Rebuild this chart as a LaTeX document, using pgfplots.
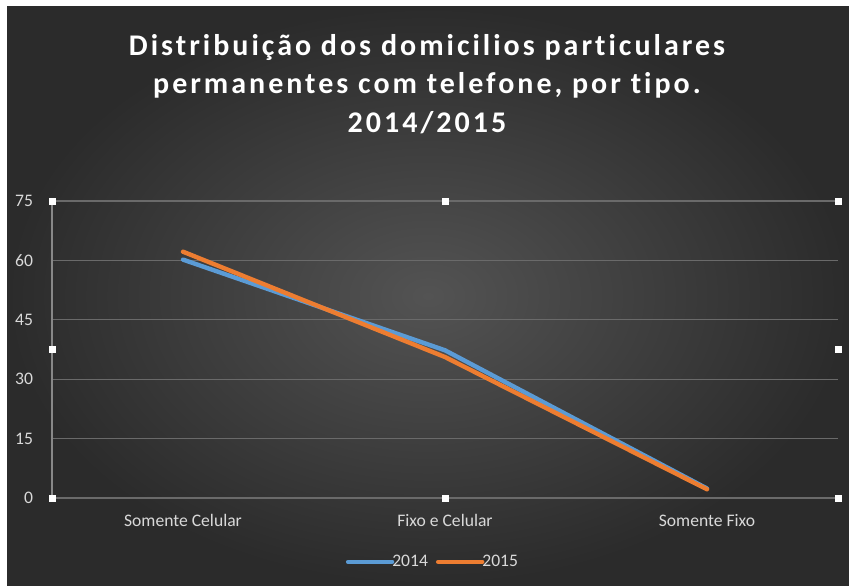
\documentclass[border=0pt]{standalone}
\usepackage{pgfplots}
\pgfplotsset{compat=1.18}
\usepackage{fontspec}
\setmainfont{Carlito}[Ligatures={NoCommon}]
\newfontfamily\titlefont{Carlito}[LetterSpace=10, Ligatures={NoCommon}]
\definecolor{bgin}{HTML}{535353}
\definecolor{bgout}{HTML}{2B2B2B}
\definecolor{ticktext}{HTML}{D9D9D9}
\definecolor{gridc}{HTML}{6A6A6A}
\definecolor{s14}{HTML}{5B9BD5}
\definecolor{s15}{HTML}{ED7D31}
\tikzset{handle/.style={fill=white, minimum size=3.5pt, inner sep=0pt, draw=none}}
\begin{document}
\begin{tikzpicture}
\fill[white] (0pt,0pt) rectangle (424.5pt,292.5pt);
\shade[inner color=bgin, outer color=bgout] (3.5pt,0pt) rectangle (424.5pt,289pt);
\node[align=center, text=white, font=\titlefont\bfseries\fontsize{15}{19.3}\selectfont] at (213.5pt,250.5pt)
  {Distribuição dos domicilios particulares\\permanentes com telefone, por tipo.\\2014/2015};
\begin{axis}[
  at={(26pt,43.5pt)}, anchor=south west,
  scale only axis, width=393pt, height=148.5pt,
  xmin=-0.5, xmax=2.5, ymin=0, ymax=75,
  xtick={0,1,2},
  xticklabels={Somente Celular, Fixo e Celular, Somente Fixo},
  ytick={0,15,30,45,60,75},
  ymajorgrids, grid style={gridc, line width=0.6pt},
  axis x line*=bottom,
  axis y line*=left,
  axis line style={gridc!80!white, line width=0.6pt, -},
  x axis line style={draw=none},
  major tick length=0pt,
  tick style={draw=none},
  ticklabel style={text=ticktext, font=\fontsize{8.8}{10}\selectfont},
  /pgf/number format/assume math mode=true,
  yticklabel style={xshift=-6pt},
  xticklabel style={yshift=-4.5pt},
  clip=false,
  legend columns=2,
  legend style={at={(0.486,-0.215)}, anchor=center, draw=none, fill=none,
    text=ticktext, font=\fontsize{8.8}{10}\selectfont,
    /tikz/every even column/.append style={column sep=2pt},
    /tikz/every odd column/.append style={column sep=-3pt}},
  legend image code/.code={\draw[#1, line cap=round] (0pt,0pt) -- (22pt,0pt);},
]
\addplot[s14, line width=2.2pt, line cap=round, line join=round] coordinates {(0,60.2) (1,37.3) (2,2.4)};
\addlegendentry{2014}
\addplot[s15, line width=2.2pt, line cap=round, line join=round] coordinates {(0,62.2) (1,35.6) (2,2.2)};
\addlegendentry{2015}
\draw[gridc, line width=0.6pt] (axis cs:-0.5,0) -- (axis cs:2.5,0);
\node[handle] at (axis description cs:0,0) {};
\node[handle] at (axis description cs:0.5,0) {};
\node[handle] at (axis description cs:1,0) {};
\node[handle] at (axis description cs:0,0.5) {};
\node[handle] at (axis description cs:1,0.5) {};
\node[handle] at (axis description cs:0,1) {};
\node[handle] at (axis description cs:0.5,1) {};
\node[handle] at (axis description cs:1,1) {};
\end{axis}
\end{tikzpicture}
\end{document}
